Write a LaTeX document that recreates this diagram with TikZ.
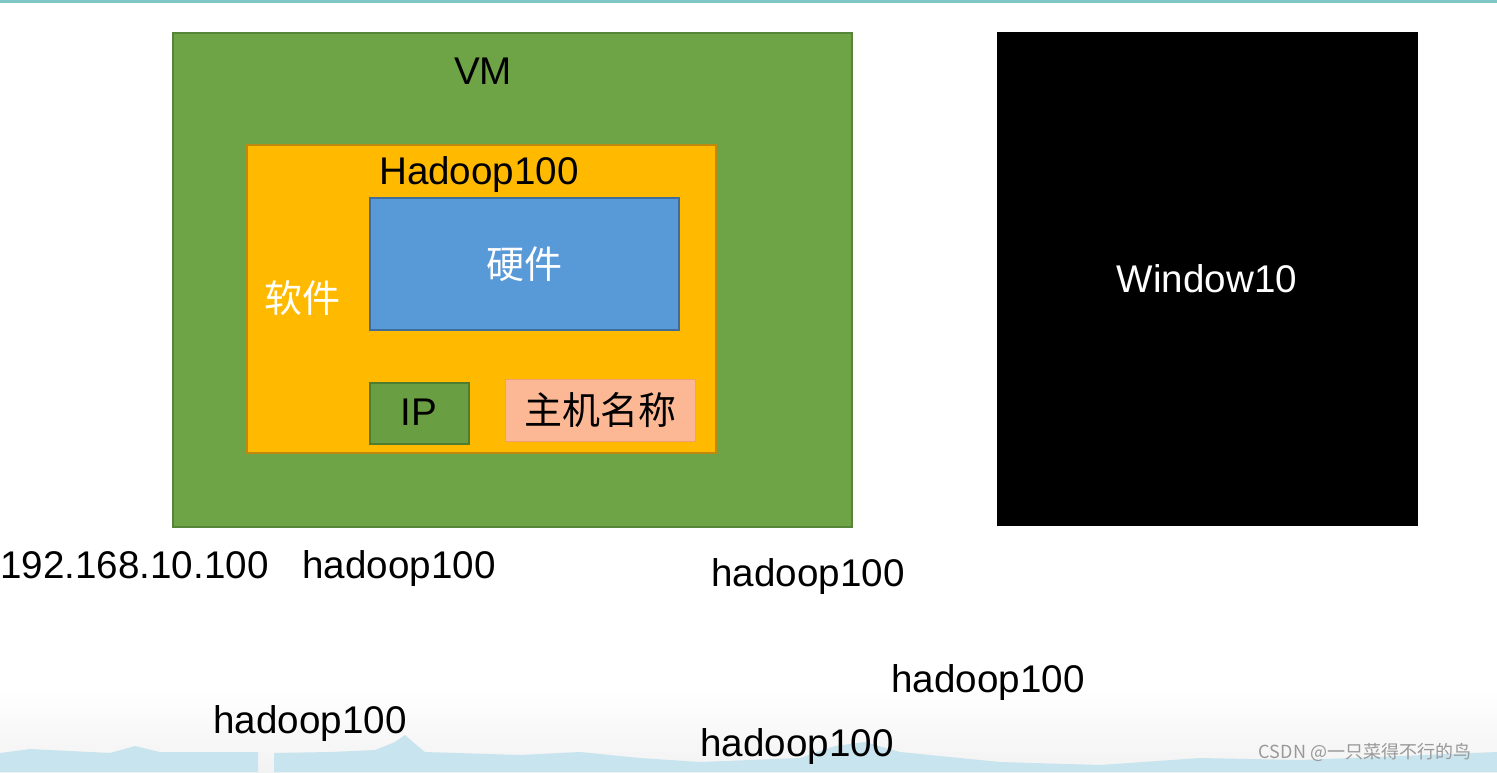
\documentclass[tikz,border=0pt]{standalone}
\usepackage{fontspec}
\setmainfont{Liberation Sans}
\newfontfamily\cjk{Noto Sans CJK SC}
\definecolor{vmgreen}{HTML}{6EA346}
\definecolor{vmborder}{HTML}{56853A}
\definecolor{gold}{HTML}{FFBA00}
\definecolor{goldborder}{HTML}{C08A10}
\definecolor{hwblue}{HTML}{5899D8}
\definecolor{hwborder}{HTML}{3F6E9C}
\definecolor{ipgreen}{HTML}{6A9E42}
\definecolor{ipborder}{HTML}{4E7D30}
\definecolor{salmon}{HTML}{FCB894}
\definecolor{salmonborder}{HTML}{F0A070}
\definecolor{teal}{HTML}{7FC6C4}
\definecolor{hill}{HTML}{C8E5EF}
\tikzset{
  box/.style={draw, line width=1.5pt},
  lbl/.style={inner sep=0pt, anchor=base, font=\fontsize{38.6}{46}\selectfont},
  cjklbl/.style={inner sep=0pt, anchor=center, font=\cjk\fontsize{38}{44}\selectfont},
}
\begin{document}
\begin{tikzpicture}[x=1pt,y=-1pt]
\useasboundingbox (0,0) rectangle (1497,772);
\fill[white] (0,0) rectangle (1497,772);
% bottom background
\shade[top color=white, bottom color=black!5] (0,690) rectangle (1497,772);
\fill[hill] (0,772) -- (0,753) -- (30,749) -- (70,751) -- (110,753) -- (135,746) -- (160,752) -- (258,752) -- (258,772) -- cycle;
\fill[hill] (274,772) -- (274,753) -- (330,752) -- (375,750) -- (395,742) -- (405,735) -- (413,742) -- (425,752) -- (520,755) -- (580,752) -- (640,758) -- (700,762) -- (800,758) -- (835,746) -- (865,742) -- (900,752) -- (1000,762) -- (1100,765) -- (1200,758) -- (1300,760) -- (1400,756) -- (1497,752) -- (1497,772) -- cycle;
% top line
\fill[teal] (0,0) rectangle (1497,2.5);
% boxes
\node[box, fill=vmgreen, draw=vmborder, minimum width=679pt, minimum height=494pt, anchor=north west, inner sep=0pt] (vm) at (172,32) {};
\node[box, fill=gold, draw=goldborder, minimum width=469pt, minimum height=308pt, anchor=north west, inner sep=0pt] (hadoop) at (246,144) {};
\node[box, fill=hwblue, draw=hwborder, minimum width=309pt, minimum height=132pt, anchor=north west, inner sep=0pt] (hw) at (369,197) {};
\node[box, fill=ipgreen, draw=ipborder, minimum width=99pt, minimum height=61pt, anchor=north west, inner sep=0pt] (ip) at (369,382) {};
\node[box, fill=salmon, draw=salmonborder, line width=1pt, minimum width=190pt, minimum height=62pt, anchor=north west, inner sep=0pt] (host) at (505,379) {};
\node[fill=black, minimum width=421pt, minimum height=494pt, anchor=north west, inner sep=0pt] (win) at (997,32) {};
% labels in boxes
\node[lbl] (vmlbl) at (483,84) {VM};
\node[lbl] (hadooplbl) at (479,184) {Hadoop100};
\node[cjklbl, text=white] (hwlbl) at (524,264) {硬件};
\node[cjklbl, text=white] (swlbl) at (302,298) {软件};
\node[lbl] (iplbl) at (419,425) {IP};
\node[cjklbl] (hostlbl) at (600,410) {主机名称};
\node[lbl, text=white] (winlbl) at (1207,292) {Window10};
% free labels
\node[lbl, anchor=base west] (ipaddr) at (0,578) {192.168.10.100};
\node[lbl] (h1) at (399,578) {hadoop100};
\node[lbl] (h2) at (808,586) {hadoop100};
\node[lbl] (h3) at (988,692) {hadoop100};
\node[lbl] (h4) at (310,733) {hadoop100};
\node[lbl] (h5) at (797,756) {hadoop100};
% watermark
\node[inner sep=0pt, text=black!40, font=\cjk\fontsize{18}{20}\selectfont] (wm) at (1365,752) {CSDN @一只菜得不行的鸟};
\end{tikzpicture}
\end{document}
